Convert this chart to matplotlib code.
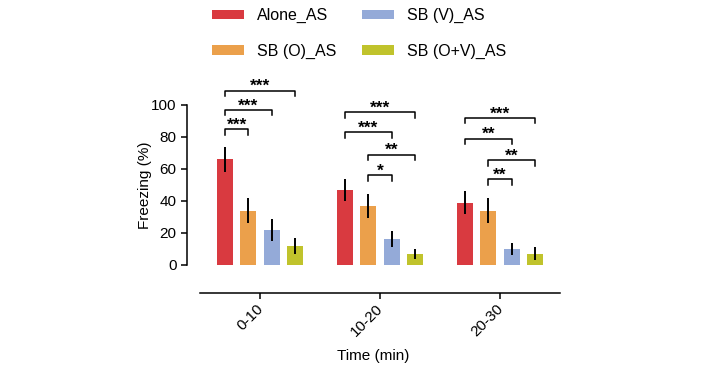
import matplotlib
matplotlib.use("Agg")
import matplotlib.pyplot as plt
import matplotlib.transforms as mtransforms
from matplotlib.patches import Patch
import numpy as np

plt.rcParams['font.family'] = ['Liberation Sans', 'DejaVu Sans']

groups = ['0-10', '10-20', '20-30']
series = ['Alone_AS', 'SB (O)_AS', 'SB (V)_AS', 'SB (O+V)_AS']
colors = ['#D93A40', '#EBA04B', '#94AAD8', '#C0C32C']

alone = [66, 47, 39]
sb_o = [34, 37, 34]
sb_v = [22, 16, 10]
sb_ov = [12, 7, 7]
alone_err = [8, 7, 7]
sb_o_err = [8, 7.5, 8]
sb_v_err = [7, 5, 4]
sb_ov_err = [5, 3, 4]

# (group, bar a, bar b, height, label)
brackets = [
    (0, 0, 1, 85, '***'), (0, 0, 2, 97, '***'), (0, 0, 3, 109, '***'),
    (1, 1, 2, 56, '*'), (1, 1, 3, 69, '**'), (1, 0, 2, 83, '***'), (1, 0, 3, 95.5, '***'),
    (2, 1, 2, 53.5, '**'), (2, 1, 3, 65.5, '**'), (2, 0, 2, 79, '**'), (2, 0, 3, 92, '***'),
]

values = [alone, sb_o, sb_v, sb_ov]
errors = [alone_err, sb_o_err, sb_v_err, sb_ov_err]
offsets = np.array([-0.29, -0.097, 0.097, 0.29])
x = np.arange(len(groups))

fig = plt.figure(figsize=(7.03, 3.70), dpi=100)
ax = fig.add_axes([187/703, 1 - 293/370, (560 - 187)/703, (293 - 65)/370])

for k in range(4):
    ax.bar(x + offsets[k], values[k], width=0.133, color=colors[k], zorder=2)
    ax.errorbar(x + offsets[k], values[k], yerr=errors[k], fmt='none',
                ecolor='black', elinewidth=1.4, capsize=0, zorder=3)

for g, a, b, h, lab in brackets:
    xa = g + offsets[a]
    xb = g + offsets[b]
    ax.plot([xa, xa, xb, xb], [h - 3.5, h, h, h - 3.5], color='black', lw=1.1,
            clip_on=False)
    ax.text((xa + xb) / 2, h - 0.3, lab, ha='center', va='baseline', fontsize=12.5,
            fontweight='bold')

ax.set_xlim(-0.608, 2.5)
ax.set_ylim(-17.5, 125)
ax.spines['top'].set_visible(False)
ax.spines['right'].set_visible(False)
ax.spines['left'].set_bounds(0, 100)
ax.spines['bottom'].set_bounds(-0.5, 2.5)
ax.spines['left'].set_linewidth(1.1)
ax.spines['bottom'].set_linewidth(1.1)
ax.set_yticks([0, 20, 40, 60, 80, 100])
ax.set_xticks(x)
ax.set_xticklabels(groups, rotation=45, ha='right', rotation_mode='anchor')
ax.tick_params(axis='both', labelsize=11, length=4, width=1.1, direction='out')
ax.tick_params(axis='x', pad=2)
shift = mtransforms.ScaledTranslation(-4/100, 0, fig.dpi_scale_trans)
for lbl in ax.get_xticklabels():
    lbl.set_transform(lbl.get_transform() + shift)
ax.set_ylabel('Freezing (%)', fontsize=11)
ax.yaxis.set_label_coords(-0.095, 67.5 / 142.5)
ax.set_xlabel('Time (min)', fontsize=11, labelpad=7)

handles = [Patch(facecolor=c, edgecolor='none') for c in colors]
fig.legend(handles, series, loc='upper left', bbox_to_anchor=(212/703, 1 - 8/370),
           ncol=2, frameon=False, fontsize=11.5, handlelength=2.0, handleheight=0.55,
           handletextpad=0.8, columnspacing=1.65, labelspacing=1.3, borderpad=0,
           borderaxespad=0)

fig.savefig('out.png', dpi=100)
